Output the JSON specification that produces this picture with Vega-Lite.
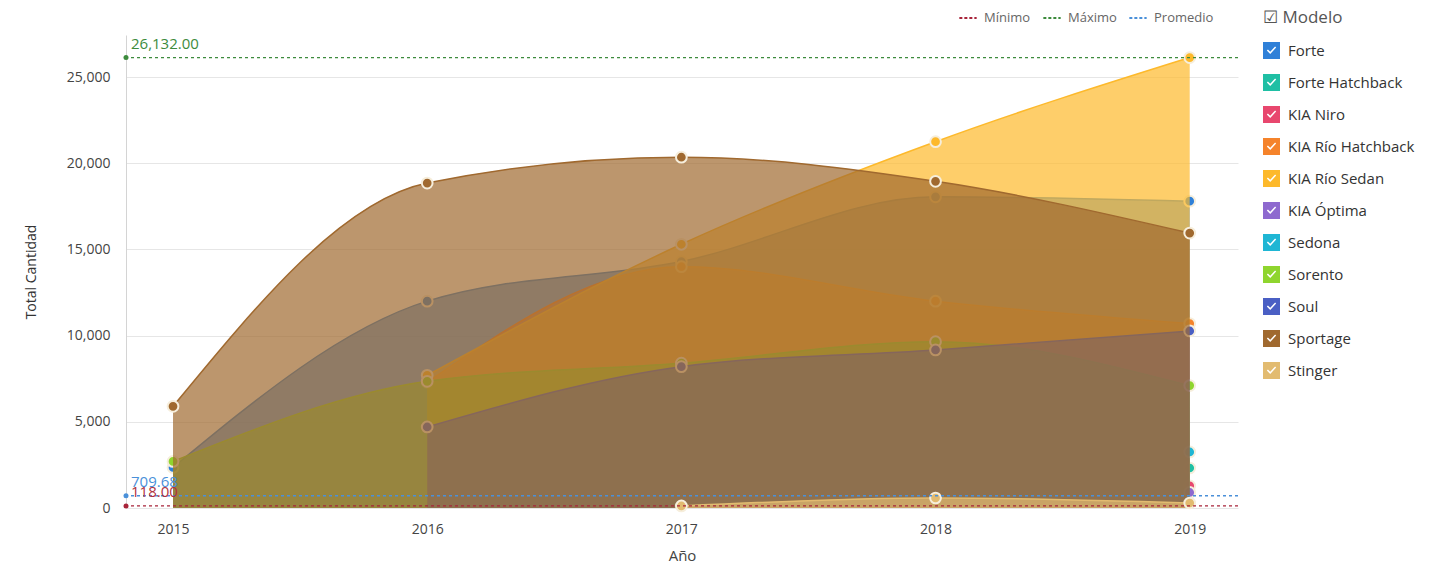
{
  "$schema": "https://vega.github.io/schema/vega-lite/v6.json",
  "width": 1112,
  "height": 473,
  "autosize": {"type": "none"},
  "padding": {"left": 126, "top": 35, "right": 212, "bottom": 65},
  "background": "white",
  "config": {
    "font": "Open Sans",
    "view": {"stroke": null},
    "axis": {"labelFont": "Open Sans", "titleFont": "Open Sans", "titleFontWeight": "normal"}
  },
  "datasets": {
    "ventas": [
      {"Modelo": "Forte", "Año": 2015, "Cantidad": 2350},
      {"Modelo": "Forte", "Año": 2016, "Cantidad": 12000},
      {"Modelo": "Forte", "Año": 2017, "Cantidad": 14300},
      {"Modelo": "Forte", "Año": 2018, "Cantidad": 18050},
      {"Modelo": "Forte", "Año": 2019, "Cantidad": 17800},
      {"Modelo": "Forte Hatchback", "Año": 2019, "Cantidad": 2320},
      {"Modelo": "KIA Niro", "Año": 2019, "Cantidad": 1280},
      {"Modelo": "KIA Río Hatchback", "Año": 2016, "Cantidad": 7300},
      {"Modelo": "KIA Río Hatchback", "Año": 2017, "Cantidad": 14000},
      {"Modelo": "KIA Río Hatchback", "Año": 2018, "Cantidad": 12000},
      {"Modelo": "KIA Río Hatchback", "Año": 2019, "Cantidad": 10700},
      {"Modelo": "KIA Río Sedan", "Año": 2016, "Cantidad": 7700},
      {"Modelo": "KIA Río Sedan", "Año": 2017, "Cantidad": 15300},
      {"Modelo": "KIA Río Sedan", "Año": 2018, "Cantidad": 21250},
      {"Modelo": "KIA Río Sedan", "Año": 2019, "Cantidad": 26132},
      {"Modelo": "KIA Óptima", "Año": 2019, "Cantidad": 900},
      {"Modelo": "Sedona", "Año": 2019, "Cantidad": 3250},
      {"Modelo": "Sorento", "Año": 2015, "Cantidad": 2700},
      {"Modelo": "Sorento", "Año": 2016, "Cantidad": 7350},
      {"Modelo": "Sorento", "Año": 2017, "Cantidad": 8400},
      {"Modelo": "Sorento", "Año": 2018, "Cantidad": 9650},
      {"Modelo": "Sorento", "Año": 2019, "Cantidad": 7100},
      {"Modelo": "Soul", "Año": 2016, "Cantidad": 4700},
      {"Modelo": "Soul", "Año": 2017, "Cantidad": 8200},
      {"Modelo": "Soul", "Año": 2018, "Cantidad": 9170},
      {"Modelo": "Soul", "Año": 2019, "Cantidad": 10270},
      {"Modelo": "Sportage", "Año": 2015, "Cantidad": 5900},
      {"Modelo": "Sportage", "Año": 2016, "Cantidad": 18850},
      {"Modelo": "Sportage", "Año": 2017, "Cantidad": 20350},
      {"Modelo": "Sportage", "Año": 2018, "Cantidad": 18950},
      {"Modelo": "Sportage", "Año": 2019, "Cantidad": 15950},
      {"Modelo": "Stinger", "Año": 2017, "Cantidad": 118},
      {"Modelo": "Stinger", "Año": 2018, "Cantidad": 580},
      {"Modelo": "Stinger", "Año": 2019, "Cantidad": 290}
    ],
    "ref": [
      {"tipo": "Mínimo", "valor": 118},
      {"tipo": "Máximo", "valor": 26132},
      {"tipo": "Promedio", "valor": 709.68}
    ]
  },
  "layer": [
    {
      "data": {"name": "ventas"},
      "encoding": {
        "x": {"field": "Año", "type": "quantitative", "scale": {"domain": [2014.815, 2019.19], "nice": false, "zero": false},
              "axis": {"values": [2015, 2016, 2017, 2018, 2019], "format": "d", "grid": false, "domain": false, "ticks": false,
                       "labelFontSize": 14, "labelColor": "#444", "labelPadding": 14, "title": "Año", "titleFontSize": 15, "titleColor": "#444", "titlePadding": 12}},
        "y": {"field": "Cantidad", "type": "quantitative", "stack": null, "scale": {"domain": [0, 27440], "nice": false},
              "axis": {"values": [0, 5000, 10000, 15000, 20000, 25000], "format": ",.0f", "grid": true, "gridColor": "#e6e6e6", "domain": true, "domainColor": "#d4d4d4", "ticks": false,
                       "labelFontSize": 14, "labelColor": "#444", "labelPadding": 16, "title": "Total Cantidad", "titleFontSize": 14, "titleColor": "#333", "titlePadding": 28}},
        "color": {"field": "Modelo", "type": "nominal",
                  "scale": {"domain": ["Forte", "Forte Hatchback", "KIA Niro", "KIA Río Hatchback", "KIA Río Sedan", "KIA Óptima", "Sedona", "Sorento", "Soul", "Sportage", "Stinger"],
                            "range": ["#2f80d8", "#1fbfa4", "#e8476e", "#f5832b", "#fdb92b", "#8e69cf", "#1fb6d4", "#8fd52e", "#4a5fc4", "#a0692f", "#e2bb70"]},
                  "legend": {"orient": "none", "legendX": 1137, "legendY": -25, "title": "☑ Modelo", "titleFontSize": 17, "titleColor": "#555", "titleFontWeight": "normal", "titlePadding": 15,
                             "symbolType": "M-1,-1H1V1H-1Z M-0.55,0L-0.15,0.4L0.55,-0.35L0.42,-0.48L-0.15,0.14L-0.42,-0.13Z",
                             "symbolSize": 289, "symbolOpacity": 1, "symbolStrokeWidth": 0, "labelFontSize": 15, "labelColor": "#333", "rowPadding": 15, "labelOffset": 8}}
      },
      "layer": [
        {"transform": [{"filter": "datum.Modelo === 'Forte'"}], "layer": [
          {"mark": {"type": "area", "interpolate": "monotone", "fillOpacity": 0.7, "line": {"strokeWidth": 1.5}}},
          {"mark": {"type": "point", "filled": true, "size": 115, "stroke": "#f6eedc", "strokeWidth": 2, "opacity": 1}}]},
        {"transform": [{"filter": "datum.Modelo === 'Forte Hatchback'"}], "layer": [
          {"mark": {"type": "area", "interpolate": "monotone", "fillOpacity": 0.7, "line": {"strokeWidth": 1.5}}},
          {"mark": {"type": "point", "filled": true, "size": 115, "stroke": "#f6eedc", "strokeWidth": 2, "opacity": 1}}]},
        {"transform": [{"filter": "datum.Modelo === 'KIA Niro'"}], "layer": [
          {"mark": {"type": "area", "interpolate": "monotone", "fillOpacity": 0.7, "line": {"strokeWidth": 1.5}}},
          {"mark": {"type": "point", "filled": true, "size": 115, "stroke": "#f6eedc", "strokeWidth": 2, "opacity": 1}}]},
        {"transform": [{"filter": "datum.Modelo === 'KIA Río Hatchback'"}], "layer": [
          {"mark": {"type": "area", "interpolate": "monotone", "fillOpacity": 0.7, "line": {"strokeWidth": 1.5}}},
          {"mark": {"type": "point", "filled": true, "size": 115, "stroke": "#f6eedc", "strokeWidth": 2, "opacity": 1}}]},
        {"transform": [{"filter": "datum.Modelo === 'KIA Río Sedan'"}], "layer": [
          {"mark": {"type": "area", "interpolate": "monotone", "fillOpacity": 0.7, "line": {"strokeWidth": 1.5}}},
          {"mark": {"type": "point", "filled": true, "size": 115, "stroke": "#f6eedc", "strokeWidth": 2, "opacity": 1}}]},
        {"transform": [{"filter": "datum.Modelo === 'KIA Óptima'"}], "layer": [
          {"mark": {"type": "area", "interpolate": "monotone", "fillOpacity": 0.7, "line": {"strokeWidth": 1.5}}},
          {"mark": {"type": "point", "filled": true, "size": 115, "stroke": "#f6eedc", "strokeWidth": 2, "opacity": 1}}]},
        {"transform": [{"filter": "datum.Modelo === 'Sedona'"}], "layer": [
          {"mark": {"type": "area", "interpolate": "monotone", "fillOpacity": 0.7, "line": {"strokeWidth": 1.5}}},
          {"mark": {"type": "point", "filled": true, "size": 115, "stroke": "#f6eedc", "strokeWidth": 2, "opacity": 1}}]},
        {"transform": [{"filter": "datum.Modelo === 'Sorento'"}], "layer": [
          {"mark": {"type": "area", "interpolate": "monotone", "fillOpacity": 0.7, "line": {"strokeWidth": 1.5}}},
          {"mark": {"type": "point", "filled": true, "size": 115, "stroke": "#f6eedc", "strokeWidth": 2, "opacity": 1}}]},
        {"transform": [{"filter": "datum.Modelo === 'Soul'"}], "layer": [
          {"mark": {"type": "area", "interpolate": "monotone", "fillOpacity": 0.7, "line": {"strokeWidth": 1.5}}},
          {"mark": {"type": "point", "filled": true, "size": 115, "stroke": "#f6eedc", "strokeWidth": 2, "opacity": 1}}]},
        {"transform": [{"filter": "datum.Modelo === 'Sportage'"}], "layer": [
          {"mark": {"type": "area", "interpolate": "monotone", "fillOpacity": 0.7, "line": {"strokeWidth": 1.5}}},
          {"mark": {"type": "point", "filled": true, "size": 115, "stroke": "#f6eedc", "strokeWidth": 2, "opacity": 1}}]},
        {"transform": [{"filter": "datum.Modelo === 'Stinger'"}], "layer": [
          {"mark": {"type": "area", "interpolate": "monotone", "fillOpacity": 0.7, "line": {"strokeWidth": 1.5}}},
          {"mark": {"type": "point", "filled": true, "size": 115, "stroke": "#f6eedc", "strokeWidth": 2, "opacity": 1}}]}
      ]
    },
    {
      "data": {"name": "ref"},
      "mark": {"type": "rule", "strokeDash": [3, 3], "strokeWidth": 1.3},
      "encoding": {
        "y": {"field": "valor", "type": "quantitative"},
        "color": {"field": "tipo", "type": "nominal",
                  "scale": {"domain": ["Mínimo", "Máximo", "Promedio"], "range": ["#a8243a", "#3d8b3d", "#4a90d9"]},
                  "legend": {"orient": "none", "legendX": 832, "legendY": -27, "direction": "horizontal", "title": null,
                             "symbolType": "stroke", "symbolDash": [3, 2], "symbolStrokeWidth": 2, "symbolSize": 300,
                             "labelFontSize": 13, "labelColor": "#666", "columnPadding": 8, "labelOffset": 6}}
      }
    },
    {
      "data": {"name": "ref"},
      "mark": {"type": "point", "filled": true, "size": 25, "opacity": 1},
      "encoding": {
        "x": {"datum": 2014.815, "type": "quantitative"},
        "y": {"field": "valor", "type": "quantitative"},
        "color": {"field": "tipo", "type": "nominal", "legend": null,
                  "scale": {"domain": ["Mínimo", "Máximo", "Promedio"], "range": ["#a8243a", "#3d8b3d", "#4a90d9"]}}
      }
    },
    {
      "data": {"name": "ref"},
      "mark": {"type": "text", "align": "left", "baseline": "bottom", "dx": 5, "dy": -6, "fontSize": 15},
      "encoding": {
        "x": {"datum": 2014.815, "type": "quantitative"},
        "y": {"field": "valor", "type": "quantitative"},
        "text": {"field": "valor", "type": "quantitative", "format": ",.2f"},
        "color": {"field": "tipo", "type": "nominal", "legend": null,
                  "scale": {"domain": ["Mínimo", "Máximo", "Promedio"], "range": ["#b03040", "#3d8b3d", "#4a90d9"]}}
      }
    }
  ],
  "resolve": {"scale": {"color": "independent"}}
}
